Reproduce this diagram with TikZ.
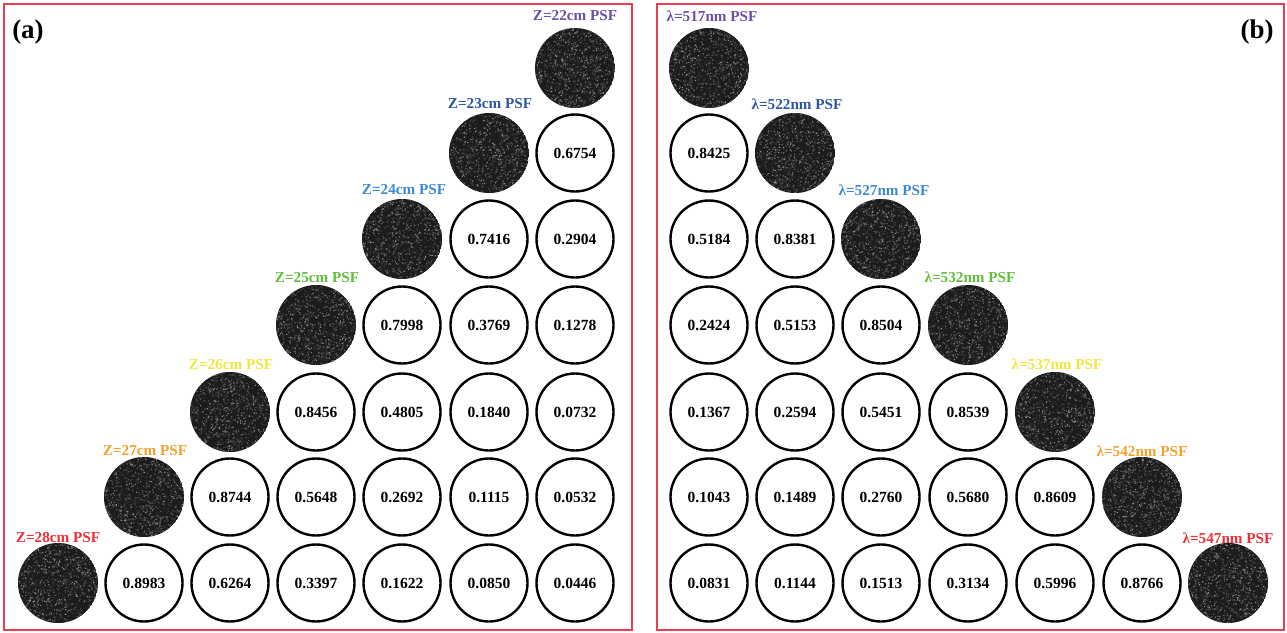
\documentclass[tikz,border=0pt]{standalone}
\usepackage{fontspec}
\setmainfont{Liberation Serif}
\definecolor{framered}{HTML}{E8404E}
\definecolor{cpurple}{HTML}{6A50A8}
\definecolor{cdblue}{HTML}{2F55A8}
\definecolor{clblue}{HTML}{3C8AD2}
\definecolor{cgreen}{HTML}{62BE3A}
\definecolor{cyellow}{HTML}{F2E640}
\definecolor{corange}{HTML}{F2A22E}
\definecolor{cred}{HTML}{EE3036}
\definecolor{speckbg}{HTML}{1C1C1C}
\definecolor{sp1}{HTML}{383838}
\definecolor{sp2}{HTML}{5A5A5A}
\definecolor{sp3}{HTML}{8A8A8A}
\tikzset{
  frame/.style={draw=framered,line width=2pt},
  valc/.style={circle,draw=black,line width=2.4pt,minimum size=77pt,inner sep=0pt,font=\bfseries\fontsize{15.5}{15.5}\selectfont},
  speck/.style={circle,minimum size=80pt,inner sep=0pt},
  psflab/.style={font=\bfseries\fontsize{15.2}{15.2}\selectfont,inner sep=0pt},
  panlab/.style={font=\bfseries\fontsize{27}{27}\selectfont,inner sep=0pt},
}
\newcommand\mkspeckle[3]{%
  \begin{scope}
    \clip (#2,#3) circle (40);
    \fill[speckbg] (#2,#3) circle (40);
    \fill[sp1] \foreach \k in {1,...,500}{([shift={(#2,#3)}]{82*rnd-41},{82*rnd-41}) rectangle ++(1.3,1.3)};
    \fill[sp2] \foreach \k in {1,...,350}{([shift={(#2,#3)}]{82*rnd-41},{82*rnd-41}) rectangle ++(1.2,1.2)};
    \fill[sp3] \foreach \k in {1,...,200}{([shift={(#2,#3)}]{82*rnd-41},{82*rnd-41}) rectangle ++(1.1,1.1)};
  \end{scope}
  \node[speck] (#1) at (#2,#3) {};
}
\begin{document}
\begin{tikzpicture}[x=1pt,y=-1pt]
\pgfmathsetseed{12345}
\useasboundingbox (0,0) rectangle (1287,632);
\fill[white] (0,0) rectangle (1287,632);
% frames
\node[frame,minimum width=628pt,minimum height=626pt,inner sep=0pt] (fa) at (317.5,316.5) {};
\node[frame,minimum width=627pt,minimum height=626pt,inner sep=0pt] (fb) at (970,316.5) {};
\node[panlab] (la) at (28,32) {(a)};
\node[panlab] (lb) at (1257,32) {(b)};
% ---------- panel (a)
\mkspeckle{a0}{575}{68}
\mkspeckle{a1}{489}{153}
\mkspeckle{a2}{402}{239}
\mkspeckle{a3}{316}{325}
\mkspeckle{a4}{230}{412}
\mkspeckle{a5}{144}{497}
\mkspeckle{a6}{58}{583}
\node[psflab,text=cpurple] (ta0) at (575,16) {Z=22cm PSF};
\node[psflab,text=cdblue] (ta1) at (490,104) {Z=23cm PSF};
\node[psflab,text=clblue] (ta2) at (404,190) {Z=24cm PSF};
\node[psflab,text=cgreen] (ta3) at (317,278) {Z=25cm PSF};
\node[psflab,text=cyellow] (ta4) at (231,365) {Z=26cm PSF};
\node[psflab,text=corange] (ta5) at (145,451) {Z=27cm PSF};
\node[psflab,text=cred] (ta6) at (58,538) {Z=28cm PSF};
\node[valc] (a16) at (575,153) {0.6754};
\node[valc] (a25) at (489,239) {0.7416};
\node[valc] (a26) at (575,239) {0.2904};
\node[valc] (a34) at (402,325) {0.7998};
\node[valc] (a35) at (489,325) {0.3769};
\node[valc] (a36) at (575,325) {0.1278};
\node[valc] (a43) at (316,412) {0.8456};
\node[valc] (a44) at (402,412) {0.4805};
\node[valc] (a45) at (489,412) {0.1840};
\node[valc] (a46) at (575,412) {0.0732};
\node[valc] (a52) at (230,497) {0.8744};
\node[valc] (a53) at (316,497) {0.5648};
\node[valc] (a54) at (402,497) {0.2692};
\node[valc] (a55) at (489,497) {0.1115};
\node[valc] (a56) at (575,497) {0.0532};
\node[valc] (a61) at (144,583) {0.8983};
\node[valc] (a62) at (230,583) {0.6264};
\node[valc] (a63) at (316,583) {0.3397};
\node[valc] (a64) at (402,583) {0.1622};
\node[valc] (a65) at (489,583) {0.0850};
\node[valc] (a66) at (575,583) {0.0446};
% ---------- panel (b)
\mkspeckle{b0}{709}{68}
\mkspeckle{b1}{795}{153}
\mkspeckle{b2}{881}{239}
\mkspeckle{b3}{968}{325}
\mkspeckle{b4}{1055}{412}
\mkspeckle{b5}{1142}{497}
\mkspeckle{b6}{1228}{583}
\node[psflab,text=cpurple] (tb0) at (712,16) {λ=517nm PSF};
\node[psflab,text=cdblue] (tb1) at (797,104) {λ=522nm PSF};
\node[psflab,text=clblue] (tb2) at (884,190) {λ=527nm PSF};
\node[psflab,text=cgreen] (tb3) at (970,277) {λ=532nm PSF};
\node[psflab,text=cyellow] (tb4) at (1057,364) {λ=537nm PSF};
\node[psflab,text=corange] (tb5) at (1142,451) {λ=542nm PSF};
\node[psflab,text=cred] (tb6) at (1228,538) {λ=547nm PSF};
\node[valc] (b10) at (709,153) {0.8425};
\node[valc] (b20) at (709,239) {0.5184};
\node[valc] (b21) at (795,239) {0.8381};
\node[valc] (b30) at (709,325) {0.2424};
\node[valc] (b31) at (795,325) {0.5153};
\node[valc] (b32) at (881,325) {0.8504};
\node[valc] (b40) at (709,412) {0.1367};
\node[valc] (b41) at (795,412) {0.2594};
\node[valc] (b42) at (881,412) {0.5451};
\node[valc] (b43) at (968,412) {0.8539};
\node[valc] (b50) at (709,497) {0.1043};
\node[valc] (b51) at (795,497) {0.1489};
\node[valc] (b52) at (881,497) {0.2760};
\node[valc] (b53) at (968,497) {0.5680};
\node[valc] (b54) at (1055,497) {0.8609};
\node[valc] (b60) at (709,583) {0.0831};
\node[valc] (b61) at (795,583) {0.1144};
\node[valc] (b62) at (881,583) {0.1513};
\node[valc] (b63) at (968,583) {0.3134};
\node[valc] (b64) at (1055,583) {0.5996};
\node[valc] (b65) at (1142,583) {0.8766};
\end{tikzpicture}
\end{document}
